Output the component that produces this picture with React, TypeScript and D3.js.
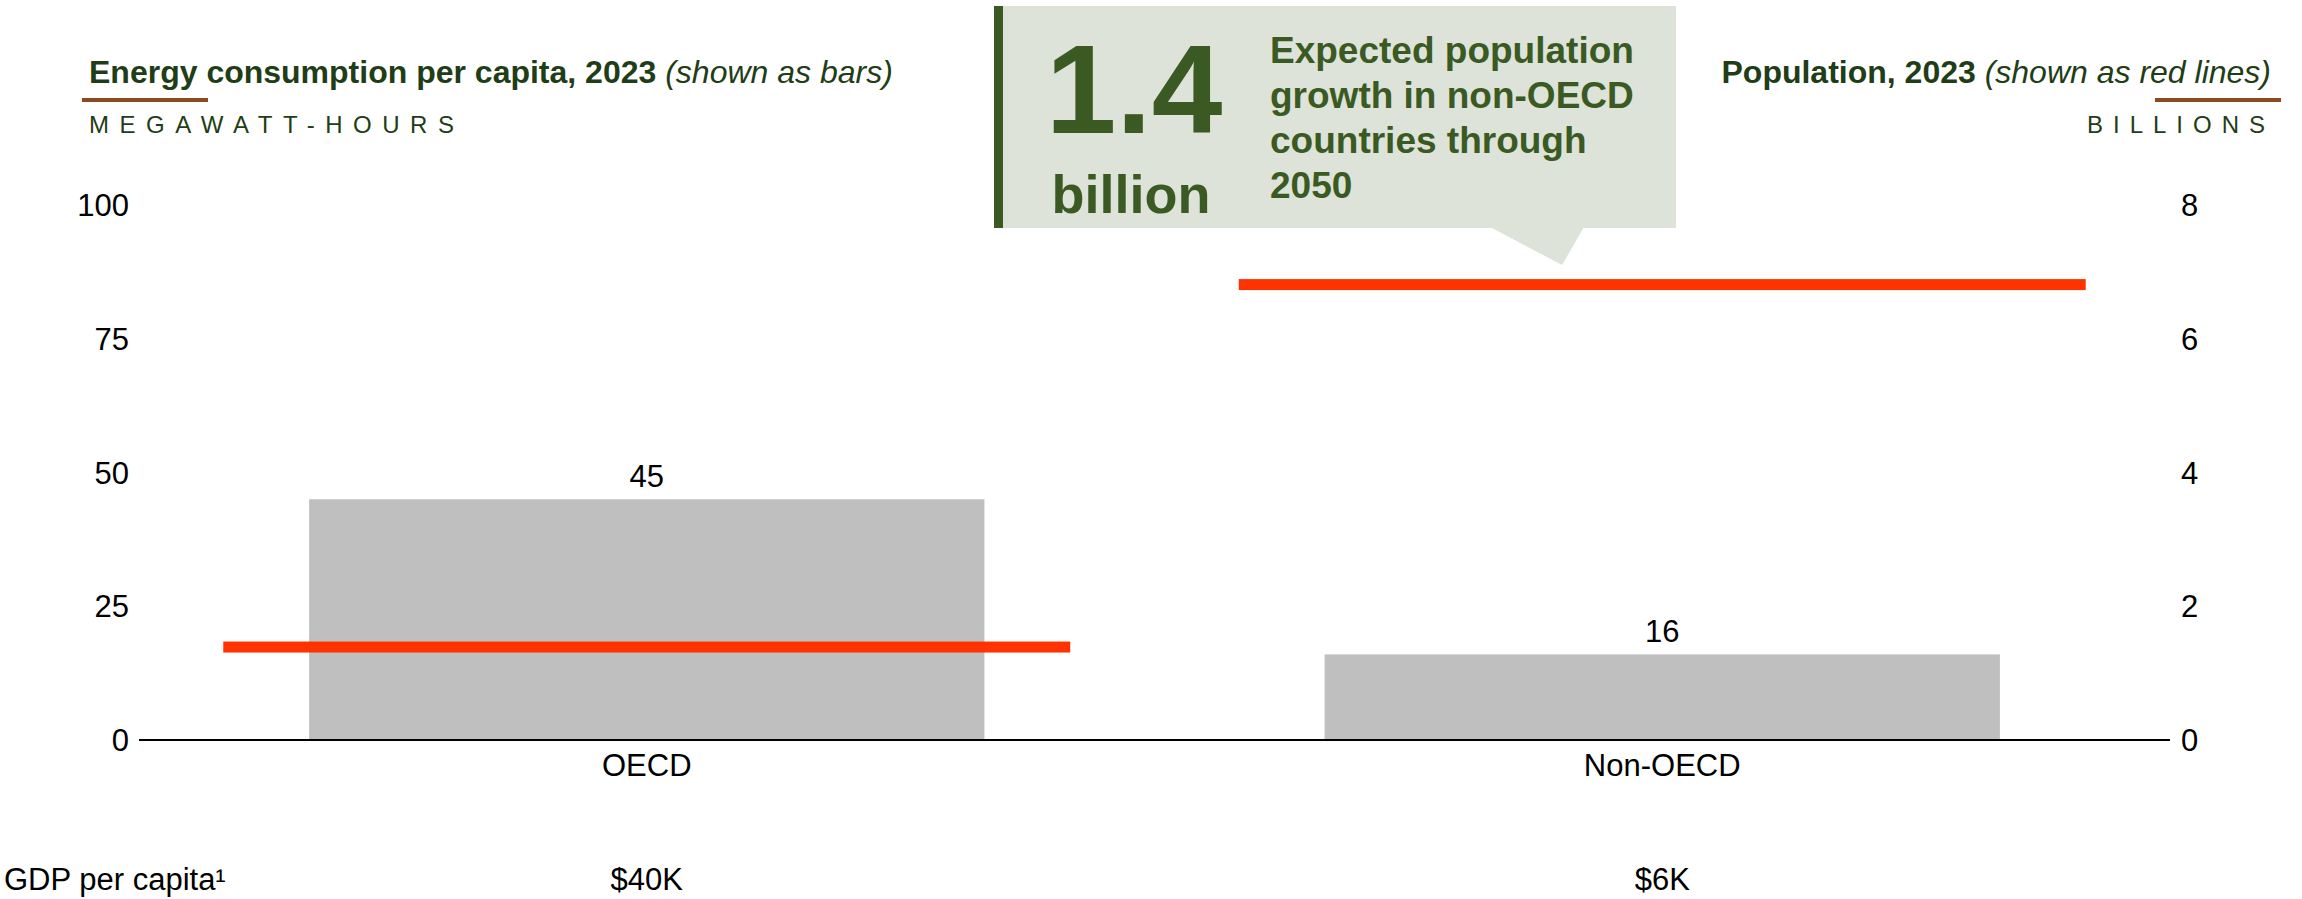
import React from "react";
import * as d3 from "d3";

const categories = ["OECD", "Non-OECD"];
const energyPerCapita = [45, 16]; // MWh, bars
const population = [1.39, 6.81]; // billions, red lines
const gdpLabels = ["$40K", "$6K"];
const leftTicks = [0, 25, 50, 75, 100];
const rightTicks = [0, 2, 4, 6, 8];

const W = 2302;
const H = 899;
const FONT = "'Liberation Sans', Arial, Helvetica, sans-serif";
const DARK = "#1f3d17";
const CALLOUT = "#3b5a23";
const RED = "#ff3300";
const BAR = "#bfbfbf";
const BROWN = "#8a4b22";
const FS = 31;

export default function App() {
  const x = d3.scaleBand<string>().domain(categories).range([139, 2170]).padding(0);
  const yL = d3.scaleLinear().domain([0, 100]).range([740, 205]);
  const yR = d3.scaleLinear().domain([0, 8]).range([740, 205]);
  const step = x.bandwidth();
  const barW = step * 0.665;
  const lineW = step * 0.834;
  const cx = (c: string) => (x(c) as number) + step / 2;

  return (
    <svg width={W} height={H} style={{ position: "absolute", left: 0, top: 0 }} fontFamily={FONT}>
      <rect x={0} y={0} width={W} height={H} fill="#fff" />
      {/* Left header */}
      <text x={89} y={83} fontSize={32} fontWeight="bold" fill={DARK}>
        Energy consumption per capita, 2023{" "}
        <tspan fontWeight="normal" fontStyle="italic">(shown as bars)</tspan>
      </text>
      <rect x={82} y={98} width={126} height={4} fill={BROWN} />
      <text x={89} y={133} fontSize={24} letterSpacing={10.5} fill={DARK}>MEGAWATT-HOURS</text>

      {/* Right header */}
      <text x={2271} y={83} fontSize={32} fontWeight="bold" fill={DARK} textAnchor="end">
        Population, 2023{" "}
        <tspan fontWeight="normal" fontStyle="italic">(shown as red lines)</tspan>
      </text>
      <rect x={2155} y={98} width={126} height={4} fill={BROWN} />
      <text x={2275} y={133} fontSize={24} letterSpacing={10} fill={DARK} textAnchor="end">BILLIONS</text>

      {/* Callout */}
      <rect x={994} y={6} width={682} height={222} fill="#dde3d8" />
      <polygon points="1490,227 1584,227 1562,265" fill="#dde3d8" />
      <rect x={994} y={6} width={9} height={222} fill={CALLOUT} />
      <text x={1134} y={133} fontSize={127} fontWeight="bold" fill={CALLOUT} textAnchor="middle">1.4</text>
      <text x={1131} y={213} fontSize={54} fontWeight="bold" fill={CALLOUT} textAnchor="middle">billion</text>
      {["Expected population", "growth in non-OECD", "countries through", "2050"].map((t, i) => (
        <text key={t} x={1270} y={63 + i * 45} fontSize={37} fontWeight="bold" fill={CALLOUT}>{t}</text>
      ))}

      {/* Left ticks */}
      {leftTicks.map((t) => (
        <text key={"l" + t} x={129} y={yL(t)} dy="0.36em" fontSize={FS} textAnchor="end" fill="#000">{t}</text>
      ))}
      {/* Right ticks */}
      {rightTicks.map((t) => (
        <text key={"r" + t} x={2181} y={yR(t)} dy="0.36em" fontSize={FS} textAnchor="start" fill="#000">{t}</text>
      ))}

      {/* Bars */}
      {categories.map((c, i) => (
        <g key={c}>
          <rect x={cx(c) - barW / 2} y={yL(energyPerCapita[i])} width={barW} height={yL(0) - yL(energyPerCapita[i])} fill={BAR} />
          <text x={cx(c)} y={yL(energyPerCapita[i]) - 12} fontSize={FS} textAnchor="middle" fill="#000">{energyPerCapita[i]}</text>
        </g>
      ))}

      {/* Axis */}
      <line x1={139} x2={2170} y1={yL(0)} y2={yL(0)} stroke="#000" strokeWidth={2} />

      {/* Population lines */}
      {categories.map((c, i) => (
        <rect key={"p" + c} x={cx(c) - lineW / 2} y={yR(population[i]) - 5.5} width={lineW} height={11} fill={RED} />
      ))}

      {/* Category labels */}
      {categories.map((c) => (
        <text key={"c" + c} x={cx(c)} y={776} fontSize={FS} textAnchor="middle" fill="#000">{c}</text>
      ))}

      {/* GDP row */}
      <text x={4} y={890} fontSize={FS} fill="#000">GDP per capita¹</text>
      {categories.map((c, i) => (
        <text key={"g" + c} x={cx(c)} y={890} fontSize={FS} textAnchor="middle" fill="#000">{gdpLabels[i]}</text>
      ))}
    </svg>
  );
}
